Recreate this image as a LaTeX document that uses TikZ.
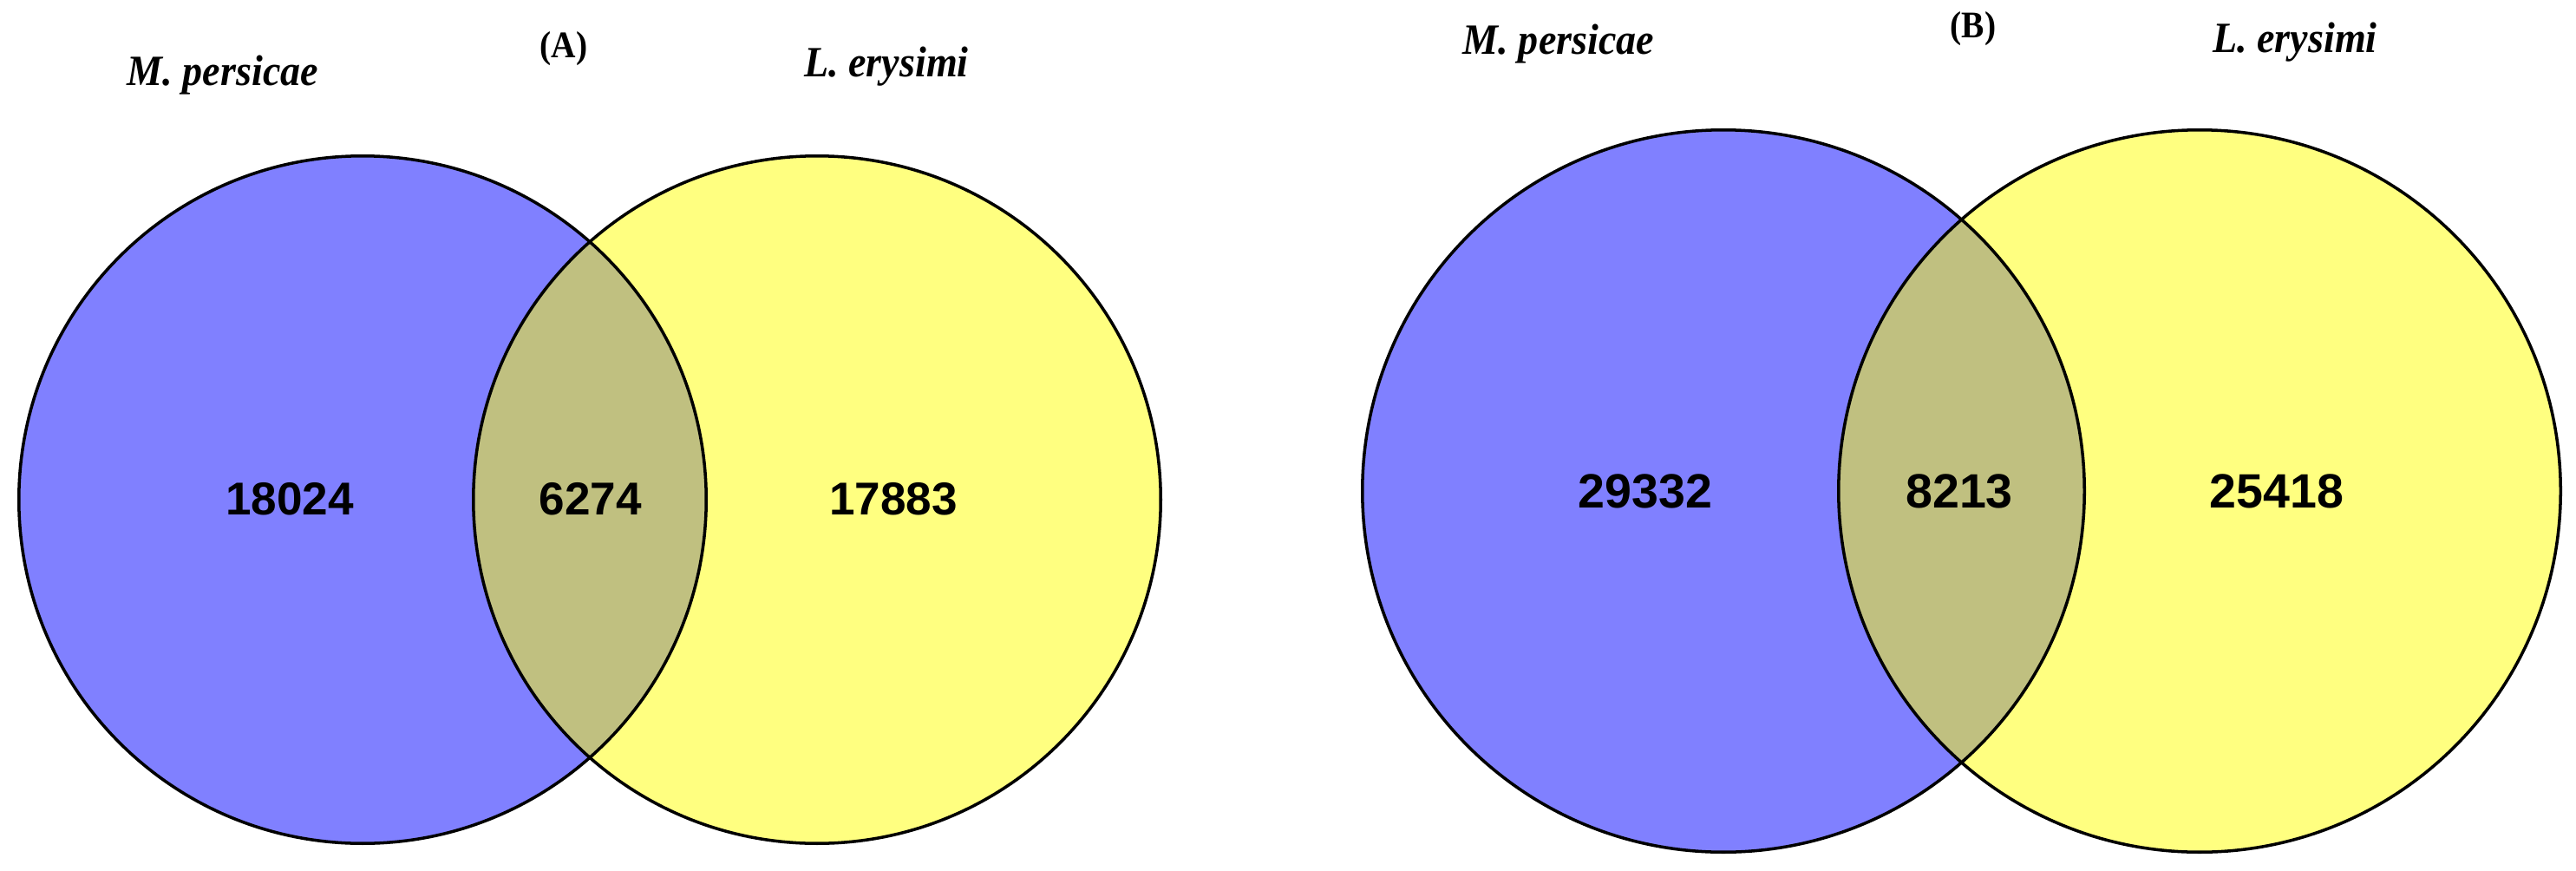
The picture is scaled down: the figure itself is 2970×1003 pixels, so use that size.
\documentclass[tikz,border=0pt]{standalone}
\usepackage{fontspec}
\newfontfamily\timesf{Liberation Serif}
\newfontfamily\arialf{Liberation Sans}
\definecolor{vblue}{HTML}{8080FF}
\definecolor{vyellow}{HTML}{FFFF80}
\definecolor{volive}{HTML}{C0C080}
\tikzset{
  species/.style={anchor=base, inner sep=0pt, yscale=1.08, transform shape, font=\timesf\bfseries\itshape\fontsize{13.1}{15}\selectfont},
  panel/.style={anchor=base, inner sep=0pt, yscale=1.1, transform shape, font=\timesf\bfseries\fontsize{11.2}{13}\selectfont},
  countA/.style={anchor=base, inner sep=0pt, font=\arialf\bfseries\fontsize{15.1}{17}\selectfont},
  countB/.style={anchor=base, inner sep=0pt, font=\arialf\bfseries\fontsize{15.8}{18}\selectfont},
  outline/.style={draw=black, line width=1pt}
}
\begin{document}
\begin{tikzpicture}[x=0.01cm, y=-0.01cm]
\useasboundingbox (0,0) rectangle (2970,1003);
% Panel A
\fill[vblue] (418,576) circle[radius=3.96cm];
\fill[vyellow] (942,576) circle[radius=3.96cm];
\begin{scope}
  \clip (418,576) circle[radius=3.96cm];
  \fill[volive] (942,576) circle[radius=3.96cm];
\end{scope}
\draw[outline] (418,576) circle[radius=3.96cm];
\draw[outline] (942,576) circle[radius=3.96cm];
% Panel B
\fill[vblue] (1987,566) circle[radius=4.16cm];
\fill[vyellow] (2536,566) circle[radius=4.16cm];
\begin{scope}
  \clip (1987,566) circle[radius=4.16cm];
  \fill[volive] (2536,566) circle[radius=4.16cm];
\end{scope}
\draw[outline] (1987,566) circle[radius=4.16cm];
\draw[outline] (2536,566) circle[radius=4.16cm];
% Labels A
\node[species] (mpA) at (257,98) {M. persicae};
\node[panel] (pA) at (650,66) {(A)};
\node[species] (leA) at (1022,88) {L. erysimi};
\node[countA] (nA1) at (334,593) {18024};
\node[countA] (nA2) at (681,593) {6274};
\node[countA] (nA3) at (1030,593) {17883};
% Labels B
\node[species] (mpB) at (1797,62) {M. persicae};
\node[panel] (pB) at (2275,43) {(B)};
\node[species] (leB) at (2646,60) {L. erysimi};
\node[countB] (nB1) at (1897,585) {29332};
\node[countB] (nB2) at (2259,585) {8213};
\node[countB] (nB3) at (2625,585) {25418};
\end{tikzpicture}
\end{document}
